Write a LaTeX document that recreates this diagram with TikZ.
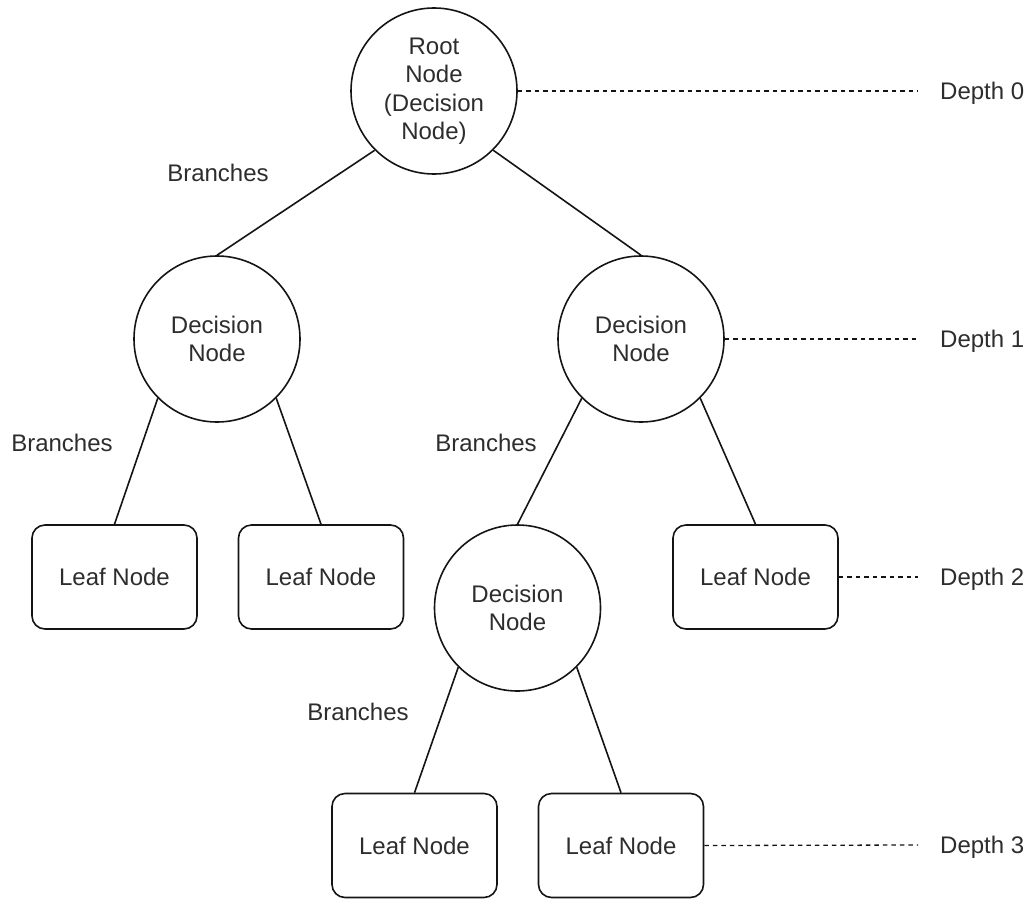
\documentclass[tikz,border=0pt]{standalone}
\usepackage{fontspec}
\setmainfont{Liberation Sans}
\definecolor{textc}{RGB}{45,45,45}
\definecolor{linec}{RGB}{20,20,20}
\begin{document}
\begin{tikzpicture}[x=1pt,y=-1pt,
  every node/.style={font=\fontsize{24}{28.5}\selectfont, text=textc},
  dnode/.style={circle, draw=linec, line width=1.6pt, minimum size=166pt, inner sep=0pt, align=center},
  leafbox/.style={rectangle, rounded corners=13pt, draw=linec, line width=1.6pt, minimum width=165pt, minimum height=104pt, inner sep=0pt},
  edge/.style={draw=linec, line width=1.6pt},
  levelline/.style={draw=linec, line width=1.3pt, dash pattern=on 4.5pt off 4pt},
  lbl/.style={inner sep=0pt, text height=17pt, text depth=0pt},
  depthlbl/.style={lbl, anchor=west}
]
\useasboundingbox (0,0) rectangle (1032,899);

% decision nodes
\node[dnode] (root) at (434,91) {Root\\Node\\(Decision\\Node)};
\node[dnode] (ld) at (217,339) {Decision\\Node};
\node[dnode] (rd) at (641,339) {Decision\\Node};
\node[dnode] (lowd) at (517.5,608) {Decision\\Node};

% leaf nodes
\node[leafbox] (leafa) at (114.5,577) {Leaf Node};
\node[leafbox] (leafb) at (321,577) {Leaf Node};
\node[leafbox] (leafr) at (755.5,577) {Leaf Node};
\node[leafbox] (leafc) at (414.5,845.5) {Leaf Node};
\node[leafbox] (leafd) at (621,845.5) {Leaf Node};

% branches
\draw[edge] (root.-135) -- (ld.north);
\draw[edge] (root.-45) -- (rd.north);
\draw[edge] (ld.-135) -- (leafa.north);
\draw[edge] (ld.-45) -- (leafb.north);
\draw[edge] (rd.-135) -- (lowd.north);
\draw[edge] (rd.-45) -- (leafr.north);
\draw[edge] (lowd.-135) -- (leafc.north);
\draw[edge] (lowd.-45) -- (leafd.north);

% branch labels
\node[lbl] (b1) at (218,173) {Branches};
\node[lbl] (b2) at (62,443) {Branches};
\node[lbl] (b3) at (486,443) {Branches};
\node[lbl] (b4) at (358,712) {Branches};

% depth labels
\node[depthlbl] (d0) at (940,91) {Depth 0};
\node[depthlbl] (d1) at (940,339) {Depth 1};
\node[depthlbl] (d2) at (940,577) {Depth 2};
\node[depthlbl] (d3) at (940,845) {Depth 3};

\coordinate (e0) at (918,91);
\coordinate (e1) at (918,339);
\coordinate (e2) at (918,577);
\coordinate (e3) at (918,845);
\draw[levelline] (root.east) -- (e0);
\draw[levelline] (rd.east) -- (e1);
\draw[levelline] (leafr.east) -- (e2);
\draw[levelline] (leafd.east) -- (e3);
\end{tikzpicture}
\end{document}
